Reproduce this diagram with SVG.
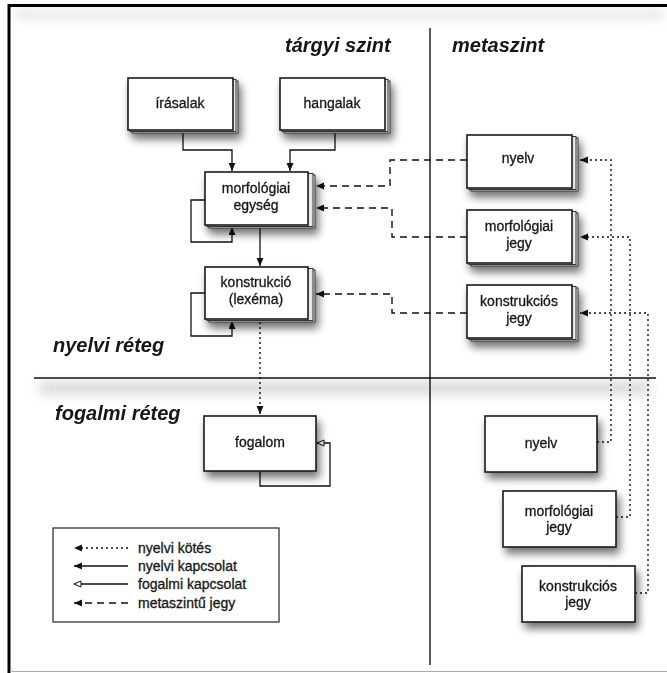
<svg xmlns="http://www.w3.org/2000/svg" width="667" height="673" viewBox="0 0 667 673">
<style>
.t{font-family:"Liberation Sans",Arial,sans-serif;font-size:14px;fill:#161616;stroke:#161616;stroke-width:0.3;text-anchor:middle}
.h{font-family:"Liberation Sans",Arial,sans-serif;font-size:20px;font-weight:bold;font-style:italic;fill:#161616}
.lg{font-family:"Liberation Sans",Arial,sans-serif;font-size:14px;fill:#161616;stroke:#161616;stroke-width:0.3}
.box{fill:#fff;stroke:#1a1a1a;stroke-width:1.6}
.bk{fill:#e6e6e6;stroke:#333;stroke-width:1}
.s{fill:none;stroke:#111;stroke-width:1.3}
.dot{fill:none;stroke:#111;stroke-width:1.4;stroke-dasharray:2 3}
.dash{fill:none;stroke:#111;stroke-width:1.4;stroke-dasharray:7 5}
</style>
<defs>
<filter id="sh" x="-20%" y="-30%" width="150%" height="180%">
<feGaussianBlur in="SourceAlpha" stdDeviation="4"/>
<feOffset dx="3" dy="6"/>
<feComponentTransfer><feFuncA type="linear" slope="0.55"/></feComponentTransfer>
<feMerge><feMergeNode/><feMergeNode in="SourceGraphic"/></feMerge>
</filter>
<filter id="bl" x="-10%" y="-100%" width="120%" height="300%"><feGaussianBlur stdDeviation="6"/></filter>
<marker id="af" markerUnits="userSpaceOnUse" markerWidth="10" markerHeight="10" refX="8" refY="3.5" orient="auto">
<path d="M0,0 L8,3.5 L0,7 z" fill="#111"/>
</marker>
<marker id="ao" markerUnits="userSpaceOnUse" markerWidth="10" markerHeight="10" refX="7.5" refY="3.5" orient="auto">
<path d="M0.5,0.5 L7.5,3.5 L0.5,6.5 z" fill="#fff" stroke="#111" stroke-width="1"/>
</marker>
</defs>
<rect x="0" y="0" width="667" height="673" fill="#fff"/>
<g opacity="0.35">
<rect x="40" y="382" width="610" height="12" fill="#888" filter="url(#bl)"/>
<rect x="14" y="10" width="650" height="8" fill="#aaa" filter="url(#bl)"/>
</g>
<g id="frame">
<rect x="8" y="4" width="659" height="3" fill="#000"/>
<rect x="7.5" y="4" width="3" height="669" fill="#000"/>
<line x1="10" y1="671.5" x2="667" y2="671.5" stroke="#aaa" stroke-width="1"/>
</g>
<g id="dividers" stroke="#111" stroke-width="1.4">
<line x1="430" y1="28" x2="430" y2="665"/>
<line x1="34" y1="378" x2="656" y2="378"/>
</g>
<g id="headings">
<text class="h" x="285" y="52">tárgyi szint</text>
<text class="h" x="452" y="52">metaszint</text>
<text class="h" x="53" y="352">nyelvi réteg</text>
<text class="h" x="55" y="420">fogalmi réteg</text>
</g>
<g id="connectors">
<path class="s" d="M183,132 V150 H232 V171" marker-end="url(#af)"/>
<path class="s" d="M335,132 V150 H290 V171" marker-end="url(#af)"/>
<path class="s" d="M205,200 H191 V242 H232 V227" marker-end="url(#af)"/>
<path class="s" d="M260,228 V266" marker-end="url(#af)"/>
<path class="s" d="M205,293 H191 V336 H232 V321" marker-end="url(#af)"/>
<path class="dot" d="M260,322 V414" marker-end="url(#af)"/>
<path class="dot" d="M597,442 H611 V160 H580" marker-end="url(#af)"/>
<path class="dot" d="M616,517 H630 V237 H580" marker-end="url(#af)"/>
<path class="dot" d="M635,593 H648 V313 H580" marker-end="url(#af)"/>
<path class="dash" d="M467,160 H390 V186 H316" marker-end="url(#af)"/>
<path class="dash" d="M467,237 H392 V208 H316" marker-end="url(#af)"/>
<path class="dash" d="M467,313 H392 V294 H316" marker-end="url(#af)"/>
<path class="s" d="M260,472 V486 H330 V443 H317" marker-end="url(#ao)"/>
</g>
<g id="irasalak" filter="url(#sh)">
<rect class="bk" x="132" y="81" width="106" height="52"/>
<rect class="bk" x="130" y="79.5" width="106" height="52"/>
<rect class="box" x="128" y="78" width="105" height="52"/>
<text class="t" x="180" y="108">írásalak</text>
</g>
<g id="hangalak" filter="url(#sh)">
<rect class="bk" x="284" y="81" width="106" height="52"/>
<rect class="bk" x="282" y="79.5" width="106" height="52"/>
<rect class="box" x="280" y="78" width="105" height="52"/>
<text class="t" x="332" y="108">hangalak</text>
</g>
<g id="morfologiai-egyseg" filter="url(#sh)">
<rect class="bk" x="209" y="175" width="106" height="53"/>
<rect class="bk" x="207" y="173.5" width="106" height="53"/>
<rect class="box" x="205" y="172" width="103" height="53"/>
<text class="t" x="256" y="193">morfológiai</text>
<text class="t" x="256" y="210">egység</text>
</g>
<g id="konstrukcio" filter="url(#sh)">
<rect class="bk" x="209" y="270" width="106" height="52"/>
<rect class="bk" x="207" y="268.5" width="106" height="52"/>
<rect class="box" x="205" y="267" width="103" height="52"/>
<text class="t" x="256" y="287">konstrukció</text>
<text class="t" x="256" y="304">(lexéma)</text>
</g>
<g id="nyelv-meta" filter="url(#sh)">
<rect class="bk" x="471" y="138" width="107" height="53"/>
<rect class="bk" x="469" y="136.5" width="107" height="53"/>
<rect class="box" x="467" y="135" width="105" height="53"/>
<text class="t" x="518" y="163">nyelv</text>
</g>
<g id="morfologiai-jegy-meta" filter="url(#sh)">
<rect class="bk" x="471" y="213" width="107" height="53"/>
<rect class="bk" x="469" y="211.5" width="107" height="53"/>
<rect class="box" x="467" y="210" width="105" height="53"/>
<text class="t" x="519" y="231">morfológiai</text>
<text class="t" x="519" y="248">jegy</text>
</g>
<g id="konstrukcios-jegy-meta" filter="url(#sh)">
<rect class="bk" x="471" y="288" width="107" height="53"/>
<rect class="bk" x="469" y="286.5" width="107" height="53"/>
<rect class="box" x="467" y="285" width="105" height="53"/>
<text class="t" x="519" y="306">konstrukciós</text>
<text class="t" x="519" y="323">jegy</text>
</g>
<g id="fogalom" filter="url(#sh)">
<rect class="box" x="204" y="416" width="112" height="55"/>
<text class="t" x="260" y="447">fogalom</text>
</g>
<g id="nyelv" filter="url(#sh)">
<rect class="box" x="485" y="416" width="112" height="56"/>
<text class="t" x="541" y="448">nyelv</text>
</g>
<g id="morfologiai-jegy" filter="url(#sh)">
<rect class="box" x="503" y="491" width="113" height="56"/>
<text class="t" x="559" y="516">morfológiai</text>
<text class="t" x="559" y="532">jegy</text>
</g>
<g id="konstrukcios-jegy" filter="url(#sh)">
<rect class="box" x="522" y="566" width="113" height="56"/>
<text class="t" x="578" y="591">konstrukciós</text>
<text class="t" x="578" y="607">jegy</text>
</g>
<g id="legend">
<rect x="53" y="528" width="226" height="94" fill="#fff" stroke="#333" stroke-width="1.3"/>
<path class="dot" d="M128,548 H74" marker-end="url(#af)"/>
<path class="s" d="M128,566 H74" marker-end="url(#af)"/>
<path class="s" d="M128,584 H74" marker-end="url(#ao)"/>
<path class="dash" d="M128,603 H74" marker-end="url(#af)"/>
<text class="lg" x="138" y="553">nyelvi kötés</text>
<text class="lg" x="138" y="571">nyelvi kapcsolat</text>
<text class="lg" x="138" y="589">fogalmi kapcsolat</text>
<text class="lg" x="138" y="608">metaszintű jegy</text>
</g>
</svg>
